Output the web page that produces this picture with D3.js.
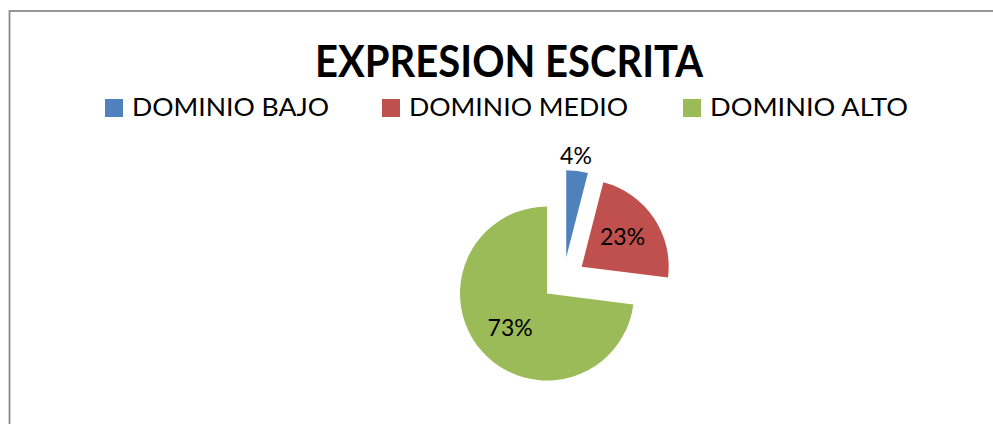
<!DOCTYPE html>
<html>
<head>
<meta charset="utf-8">
<script src="https://cdn.jsdelivr.net/npm/d3@7"></script>
<style>
  body { margin: 0; background: #fff; }
  svg { display: block; font-family: Lato, "Open Sans", sans-serif; }
</style>
</head>
<body>
<script>
const width = 993;
const height = 424;

// chart data
const title = "EXPRESION ESCRITA";
const categories = ["DOMINIO BAJO", "DOMINIO MEDIO", "DOMINIO ALTO"];
const values = [4, 23, 73];
const colors = ["#4F81BD", "#C0504D", "#9BBB59"];

// pie geometry
const cx = 563.5, cy = 279;
const radius = 87;
const explode = 22;

let svg = d3.select("body").append("svg").attr("width", width).attr("height", height);

// outer frame (runs off the bottom and right edge)
svg.append("rect")
    .attr("x", 9.5).attr("y", 11)
    .attr("width", 1000).attr("height", 500)
    .attr("fill", "none")
    .attr("stroke", "#8a8a8a")
    .attr("stroke-width", 1.8);

// title
svg.append("text")
    .attr("x", 509).attr("y", 77)
    .attr("text-anchor", "middle")
    .attr("font-weight", "bold")
    .attr("font-size", 44)
    .attr("textLength", 388)
    .attr("lengthAdjust", "spacingAndGlyphs")
    .attr("fill", "#000")
    .text(title);

// legend
const legendX = [105, 382, 683];
const legendTextW = [197, 219, 198];
let legend = svg.append("g").selectAll("g")
    .data(categories)
    .enter()
    .append("g")
    .attr("transform", (d, i) => `translate(${legendX[i]},99)`);

legend.append("rect")
    .attr("width", 18).attr("height", 18)
    .attr("fill", (d, i) => colors[i]);

legend.append("text")
    .attr("x", 27).attr("y", 17)
    .attr("font-size", 25)
    .attr("textLength", (d, i) => legendTextW[i])
    .attr("lengthAdjust", "spacingAndGlyphs")
    .attr("fill", "#000")
    .text(d => d);

// pie
const total = d3.sum(values);
const pie = d3.pie().sort(null).value(d => d);
const arcs = pie(values);
const arc = d3.arc().innerRadius(0).outerRadius(radius);

let group = svg.append("g").attr("transform", `translate(${cx},${cy})`);

function offset(d) {
    const a = (d.startAngle + d.endAngle) / 2;
    return [Math.sin(a) * explode, -Math.cos(a) * explode];
}

let slices = group.selectAll("g.slice")
    .data(arcs)
    .enter()
    .append("g")
    .attr("class", "slice")
    .attr("transform", d => `translate(${offset(d)})`);

slices.append("path")
    .attr("d", arc)
    .attr("fill", (d, i) => colors[i]);

// labels: small slices outside, others inside
slices.append("text")
    .attr("transform", d => {
        const share = d.value / total;
        const r = share < 0.1 ? radius + 15 : radius * 0.58;
        const a = (d.startAngle + d.endAngle) / 2 - 0.03;
        return `translate(${Math.sin(a) * r},${-Math.cos(a) * r})`;
    })
    .attr("dy", "0.36em")
    .attr("text-anchor", "middle")
    .attr("font-size", 23)
    .attr("fill", "#000")
    .text(d => Math.round(d.value / total * 100) + "%");
</script>
</body>
</html>
